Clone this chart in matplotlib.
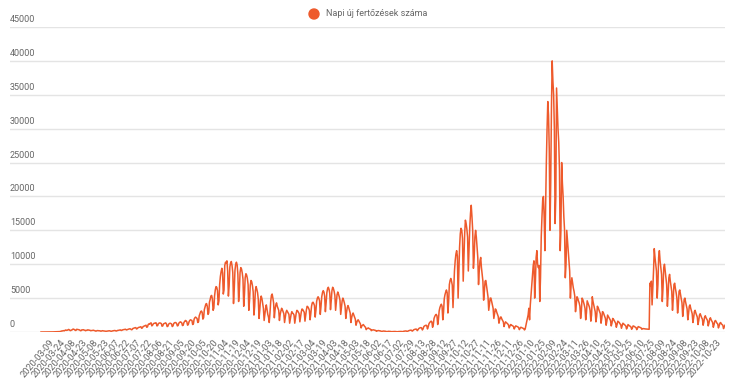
import matplotlib
matplotlib.use("Agg")
import matplotlib.pyplot as plt
import matplotlib.transforms as mtransforms
from matplotlib.patches import Ellipse
import numpy as np

# daily new cases, one row per week
weekly_cases = [
    [0, 0, 1, 0, 0, 2, 0],
    [1, 2, 0, 4, 0, 5, 2],
    [10, 8, 15, 20, 10, 25, 30],
    [30, 45, 60, 55, 70, 60, 90],
    [140, 150, 180, 200, 170, 250, 300],
    [240, 260, 320, 380, 310, 200, 220],
    [300, 330, 440, 400, 350, 230, 240],
    [400, 380, 350, 330, 300, 190, 200],
    [320, 310, 340, 290, 260, 190, 250],
    [240, 320, 300, 260, 270, 190, 210],
    [230, 250, 260, 210, 190, 130, 150],
    [210, 200, 190, 180, 170, 120, 140],
    [190, 170, 160, 140, 130, 100, 120],
    [150, 160, 170, 180, 150, 110, 120],
    [160, 180, 200, 220, 200, 140, 170],
    [230, 240, 270, 290, 310, 220, 250],
    [320, 340, 370, 390, 410, 300, 330],
    [380, 420, 450, 480, 430, 330, 360],
    [520, 550, 600, 630, 650, 450, 500],
    [620, 680, 700, 740, 780, 550, 600],
    [800, 850, 900, 960, 1000, 700, 750],
    [1100, 1200, 1150, 1300, 1350, 900, 1000],
    [1200, 1280, 1300, 1350, 1330, 900, 950],
    [1250, 1300, 1350, 1300, 1250, 850, 900],
    [1200, 1250, 1300, 1350, 1200, 800, 850],
    [1150, 1250, 1300, 1250, 1200, 800, 900],
    [1250, 1350, 1400, 1380, 1250, 900, 950],
    [1300, 1400, 1500, 1450, 1350, 950, 1000],
    [1400, 1550, 1700, 1650, 1500, 1000, 1100],
    [1500, 1700, 1800, 1750, 1700, 1100, 1200],
    [1900, 2100, 2200, 2100, 2000, 1400, 1500],
    [2400, 2700, 3000, 3100, 2900, 1900, 2100],
    [3300, 3700, 4100, 4200, 3800, 2600, 2800],
    [4400, 4800, 5300, 5400, 4900, 3200, 3500],
    [5300, 6200, 6700, 6600, 6100, 4000, 4600],
    [7000, 8200, 8900, 9400, 8700, 5600, 6200],
    [9800, 10300, 10200, 10500, 9000, 5300, 6800],
    [9600, 10200, 10400, 9800, 8800, 4200, 6300],
    [9100, 10000, 10300, 9900, 8500, 4500, 6000],
    [8800, 9500, 9300, 8700, 7800, 3800, 5500],
    [8000, 8600, 8400, 7900, 7000, 3200, 4700],
    [6900, 7600, 7400, 6800, 5900, 2500, 3800],
    [6100, 6700, 6300, 5800, 4800, 2000, 3200],
    [4800, 5300, 4900, 4200, 3500, 1700, 2600],
    [3500, 4000, 3300, 2600, 2200, 1400, 2800],
    [4500, 5400, 5600, 5000, 4300, 2100, 3300],
    [4000, 4300, 3800, 3500, 3200, 1700, 2600],
    [3100, 3500, 3300, 3000, 2700, 1400, 2100],
    [2900, 3200, 3000, 2800, 2600, 1300, 2000],
    [2600, 3000, 2800, 2700, 2500, 1300, 2000],
    [2800, 3200, 3100, 2900, 2700, 1500, 2200],
    [3000, 3400, 3300, 3100, 2900, 1600, 2400],
    [3300, 3800, 3700, 3500, 3200, 1800, 2700],
    [3800, 4300, 4400, 4200, 3900, 2200, 3200],
    [4500, 5000, 5200, 5000, 4600, 2600, 3800],
    [5200, 5800, 6100, 5900, 5300, 3000, 4300],
    [5800, 6400, 6600, 6300, 5700, 3300, 4600],
    [6100, 6600, 6400, 6000, 5400, 3200, 4300],
    [5500, 5900, 5600, 5200, 4700, 2600, 3600],
    [4600, 5000, 4700, 4300, 3800, 2000, 2900],
    [3600, 3900, 3600, 3200, 2800, 1400, 2100],
    [2600, 2800, 2500, 2200, 1900, 1000, 1400],
    [1700, 1800, 1600, 1400, 1200, 600, 900],
    [1000, 1100, 950, 800, 700, 350, 500],
    [550, 600, 500, 450, 400, 200, 300],
    [300, 320, 280, 250, 230, 100, 160],
    [200, 210, 180, 160, 150, 60, 100],
    [130, 140, 120, 110, 100, 40, 70],
    [90, 100, 85, 80, 75, 30, 60],
    [70, 80, 75, 70, 65, 30, 50],
    [60, 70, 80, 90, 85, 40, 70],
    [100, 120, 140, 150, 140, 70, 110],
    [180, 220, 250, 270, 260, 130, 200],
    [320, 370, 400, 430, 410, 200, 330],
    [500, 580, 620, 650, 600, 300, 480],
    [800, 900, 950, 1000, 950, 450, 750],
    [1200, 1400, 1500, 1600, 1500, 700, 1100],
    [2000, 2300, 2500, 2600, 2400, 1100, 1800],
    [3100, 3600, 3900, 4100, 3800, 1800, 2900],
    [4900, 5500, 5900, 6200, 5800, 2800, 4400],
    [7000, 7600, 7900, 7500, 6900, 3600, 6500],
    [9000, 10500, 11500, 12000, 11200, 5000, 8500],
    [12500, 14500, 15300, 15000, 13800, 7500, 11000],
    [14500, 16500, 16000, 15200, 14000, 9000, 12500],
    [15500, 17500, 18700, 17000, 15000, 9400, 11000],
    [14000, 15000, 14000, 12500, 11000, 7000, 9000],
    [10500, 11000, 9500, 8500, 7500, 4700, 6000],
    [7500, 7600, 6800, 6000, 5200, 3200, 4100],
    [5000, 5000, 4500, 4000, 3500, 2000, 2700],
    [3400, 3300, 2900, 2600, 2300, 1300, 1800],
    [2200, 2200, 1900, 1700, 1500, 800, 1200],
    [1500, 1400, 1300, 1200, 1050, 600, 850],
    [1100, 1050, 950, 900, 800, 450, 700],
    [900, 850, 800, 750, 650, 350, 550],
    [700, 650, 600, 550, 500, 300, 450],
    [1000, 1500, 2000, 2500, 3500, 1800, 4000],
    [5500, 7000, 8500, 9800, 10500, 5000, 7500],
    [11000, 12000, 10000, 9500, 9800, 4500, 8000],
    [14000, 17000, 19500, 20000, 17000, 12000, 19000],
    [25000, 30000, 34000, 32000, 27000, 15000, 22000],
    [33000, 40000, 37000, 35000, 30000, 16000, 20000],
    [36000, 33000, 30000, 28000, 24000, 12000, 15000],
    [25000, 22000, 20000, 17000, 15000, 8000, 10000],
    [15000, 13500, 12000, 10500, 9000, 5000, 7000],
    [8000, 7200, 6500, 6000, 5300, 3000, 4000],
    [5200, 5000, 4600, 4300, 3800, 2000, 3000],
    [5000, 4800, 4400, 4000, 3500, 1800, 2800],
    [4600, 4300, 4000, 3700, 3200, 1600, 2500],
    [5200, 4500, 4000, 3500, 3000, 1500, 2300],
    [3800, 3600, 3300, 3000, 2700, 1300, 2000],
    [3000, 2900, 2600, 2300, 2000, 1000, 1600],
    [2500, 2300, 2100, 1900, 1700, 900, 1300],
    [2000, 1900, 1700, 1500, 1300, 700, 1100],
    [1600, 1500, 1400, 1200, 1100, 550, 900],
    [1300, 1200, 1100, 1000, 900, 450, 700],
    [1100, 1000, 900, 850, 750, 400, 600],
    [900, 850, 800, 700, 650, 350, 550],
    [800, 750, 700, 650, 600, 400, 500],
    [500, 480, 460, 450, 440, 430, 420],
    [420, 400, 7200, 6800, 7500, 4000, 6500],
    [9000, 12300, 11000, 10000, 9000, 5000, 7000],
    [11000, 12000, 10500, 9500, 8500, 4500, 6500],
    [9500, 10000, 9000, 8000, 7000, 3800, 5500],
    [8000, 8500, 7500, 6800, 6000, 3200, 4800],
    [7000, 7200, 6400, 5800, 5000, 2800, 4000],
    [6000, 6200, 5500, 4900, 4300, 2300, 3400],
    [4800, 5000, 4400, 3900, 3400, 1800, 2700],
    [3800, 4000, 3500, 3100, 2700, 1400, 2100],
    [3000, 3200, 2800, 2500, 2200, 1100, 1700],
    [2500, 2700, 2400, 2100, 1900, 1000, 1500],
    [2200, 2400, 2100, 1900, 1700, 900, 1300],
    [1900, 2100, 1800, 1600, 1400, 700, 1100],
    [1600, 1700, 1500, 1300, 1200, 600, 900],
    [1300, 1400, 1200, 1100, 1000, 500, 800],
    [1000],
]

tick_labels = [
    "2020-03-09", "2020-03-24", "2020-04-08", "2020-04-23", "2020-05-08",
    "2020-05-23", "2020-06-07", "2020-06-22", "2020-07-07", "2020-07-22",
    "2020-08-06", "2020-08-21", "2020-09-05", "2020-09-20", "2020-10-05",
    "2020-10-20", "2020-11-04", "2020-11-19", "2020-12-04", "2020-12-19",
    "2021-01-03", "2021-01-18", "2021-02-02", "2021-02-17", "2021-03-04",
    "2021-03-19", "2021-04-03", "2021-04-18", "2021-05-03", "2021-05-18",
    "2021-06-02", "2021-06-17", "2021-07-02", "2021-07-29", "2021-08-13",
    "2021-08-28", "2021-09-12", "2021-09-27", "2021-10-12", "2021-10-27",
    "2021-11-11", "2021-11-26", "2021-12-11", "2021-12-26", "2022-01-10",
    "2022-01-25", "2022-02-09", "2022-02-24", "2022-03-11", "2022-03-26",
    "2022-04-10", "2022-04-25", "2022-05-10", "2022-05-25", "2022-06-10",
    "2022-07-25", "2022-08-09", "2022-08-24", "2022-09-08", "2022-09-23",
    "2022-10-08", "2022-10-23",
]
y_ticks = [0, 5000, 10000, 15000, 20000, 25000, 30000, 35000, 40000, 45000]
series_name = "Napi új fertőzések száma"

cases = [v for week in weekly_cases for v in week]
x = np.arange(len(cases))

plt.rcParams['font.family'] = ['Roboto', 'DejaVu Sans']
line_color = "#ee5a2c"
text_color = "#666666"

W, H = 742, 385
fig = plt.figure(figsize=(W / 100, H / 100), dpi=100)
ax = fig.add_axes([10 / W, 1 - 332 / H, 715 / W, 305 / H])

ax.plot(x, cases, color=line_color, lw=1.1, solid_joinstyle="round")

ax.set_ylim(0, 45000)
ax.set_xlim(-42.5, len(cases) - 1)
for s in ax.spines.values():
    s.set_visible(False)

for v in y_ticks:
    ax.axhline(v, color="#e4e4e4", lw=1, zorder=0)
ax.set_yticks([])

ytrans = mtransforms.blended_transform_factory(ax.transAxes, ax.transData)
for v in y_ticks:
    ax.text(0, v, str(v), transform=mtransforms.offset_copy(ytrans, fig=fig, y=3, units="dots"),
            ha="left", va="bottom", fontsize=6.5, color=text_color)

tick_pos = np.arange(11, len(cases), 15)[:len(tick_labels)]
ax.set_xticks(tick_pos)
ax.set_xticklabels(tick_labels, rotation=50, ha="right", rotation_mode="anchor",
                   fontsize=6.7, color=text_color)
ax.tick_params(axis="x", length=0, pad=4)

# legend
fig.add_artist(Ellipse((314 / W, 1 - 14 / H), 10 / W, 10 / H,
                       transform=fig.transFigure, color=line_color))
fig.text(326 / W, 1 - 14 / H, series_name, ha="left", va="center",
         fontsize=6.5, color=text_color)

fig.savefig("out.png", dpi=100)
